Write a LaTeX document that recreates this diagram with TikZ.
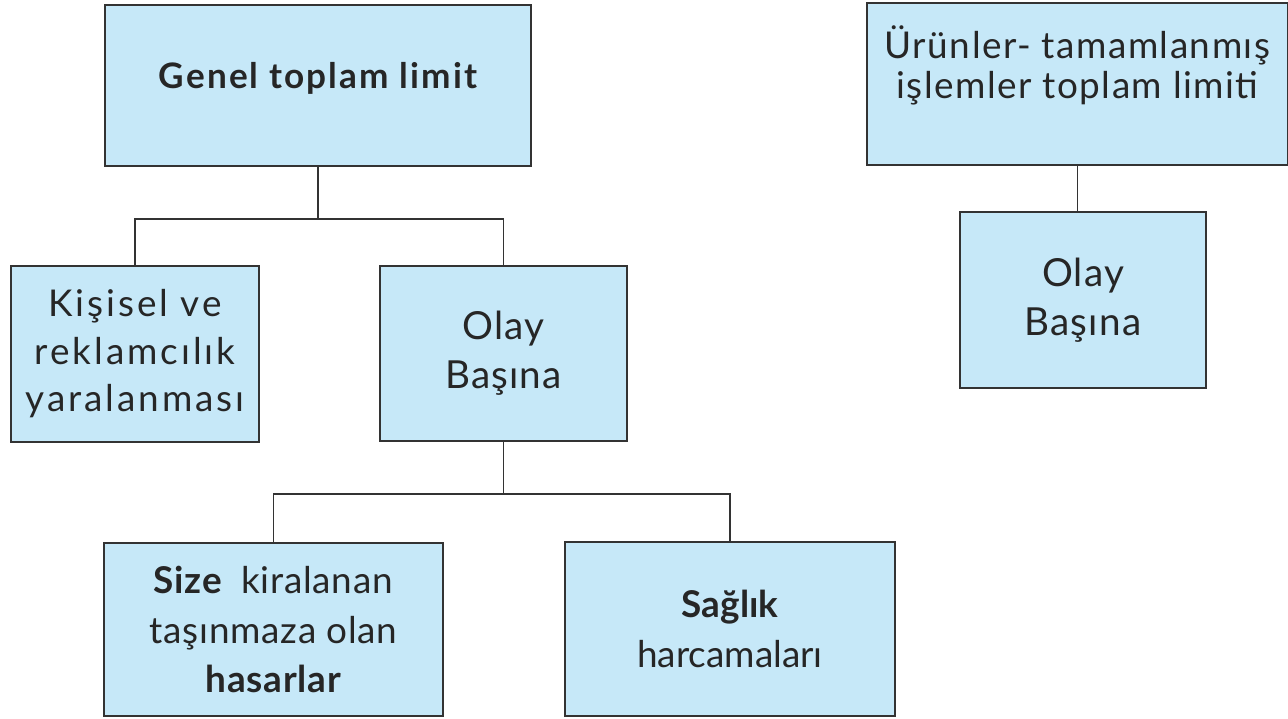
\documentclass[tikz,border=0pt]{standalone}
\usepackage{fontspec}
\setmainfont{Lato}
\usepackage{tikz}
\definecolor{boxblue}{HTML}{C6E8F8}
\definecolor{edgegray}{HTML}{333333}

\begin{document}
\begin{tikzpicture}[x=0.02cm,y=-0.02cm]

\useasboundingbox (0,0) rectangle (1288,718);

\tikzstyle{every node}=[draw=edgegray,line width=1.1pt,fill=boxblue,shape=rectangle,align=center,text=black!85,font=\fontsize{21}{28}\selectfont];
\tikzstyle{spaced}=[font=\fontsize{21}{27}\selectfont\addfontfeatures{LetterSpace=8}];

% Draw the boxes of the left tree
\node[minimum width=8.52cm,minimum height=3.22cm,font=\fontsize{20}{27}\selectfont\addfontfeatures{LetterSpace=6}] (genel) at (318,85.5) {\bfseries Genel toplam limit\\[-0.55cm]};
\node[spaced,minimum width=4.96cm,minimum height=3.52cm] (kisi) at (135,354) {Kişisel ve\\reklamcılık\\yaralanması};
\node[minimum width=4.94cm,minimum height=3.50cm,font=\fontsize{22}{28}\selectfont\addfontfeatures{LetterSpace=3}] (olay) at (503.5,353.5) {Olay\\Başına};
\node[minimum width=6.78cm,minimum height=3.46cm,font=\fontsize{21}{28}\selectfont\addfontfeatures{LetterSpace=2}] (size) at (273.5,629.5) {\bfseries Size\ \ \mdseries kiralanan\\taşınmaza olan\\\bfseries hasarlar};
\node[minimum width=6.60cm,minimum height=3.48cm] (saglik) at (730,629) {\bfseries Sağlık\\harcamaları};

% Draw the boxes of the right tree
\node[minimum width=8.42cm,minimum height=3.24cm,font=\fontsize{21}{23}\selectfont\addfontfeatures{LetterSpace=4}] (urun) at (1077.5,84) {Ürünler- tamamlanmış\\işlemler toplam limiti\\[0.07cm]};
\node[minimum width=4.92cm,minimum height=3.52cm,font=\fontsize{22}{28}\selectfont\addfontfeatures{LetterSpace=3}] (olayb) at (1083,300) {Olay\\Başına};

% Links between the boxes
\draw[edgegray,line width=1.1pt] (genel.south) -- ++(0,52) -| (kisi.north)
(genel.south) ++(0,52) -| (olay.north)
(olay.south) -- ++(0,52) -| (size.north)
(olay.south) ++(0,52) -| (saglik.north)
(urun.south) -- (olayb.north -| urun.south);

\end{tikzpicture}
\end{document}
